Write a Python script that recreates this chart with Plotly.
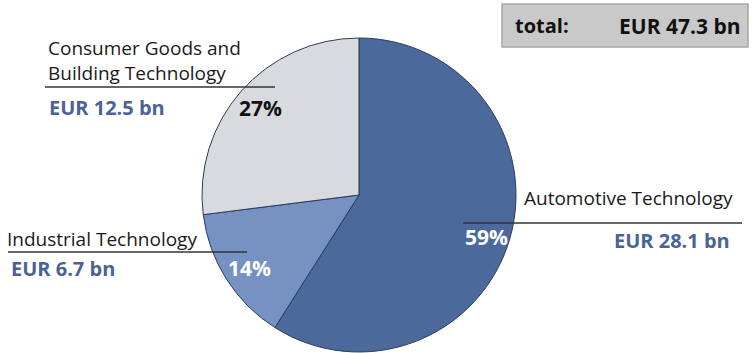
import plotly.graph_objects as go

# Sales by business sector
sectors = ["Automotive Technology", "Industrial Technology", "Consumer Goods and<br>Building Technology"]
shares_pct = [59, 14, 27]
sales_bn = ["EUR 28.1 bn", "EUR 6.7 bn", "EUR 12.5 bn"]
total_label = "EUR 47.3 bn"
colors = ["#4b6a9b", "#7692c2", "#d9dadd"]

W, H = 752, 353
FONT = "Open Sans"
BLUE = "#4a6396"


def px(x):
    return x / W


def py(y):
    return 1 - y / H


fig = go.Figure(
    go.Pie(
        labels=sectors,
        values=shares_pct,
        sort=False,
        direction="clockwise",
        rotation=0,
        textinfo="none",
        hoverinfo="skip",
        marker=dict(colors=colors, line=dict(color="#2b3b5c", width=1)),
        domain=dict(x=[px(202), px(516)], y=[py(352), py(38)]),
        showlegend=False,
    )
)

annotations = []
shapes = []


def text(x, y, s, size=19, color="#1a1a1a", bold=False, xanchor="left"):
    annotations.append(
        dict(
            x=px(x), y=py(y), xref="paper", yref="paper",
            text=f"<b>{s}</b>" if bold else s,
            showarrow=False, xanchor=xanchor, yanchor="middle", align="left",
            font=dict(family=FONT, size=size, color=color),
        )
    )


def hline(x0, x1, y):
    shapes.append(
        dict(type="line", xref="paper", yref="paper",
             x0=px(x0), x1=px(x1), y0=py(y), y1=py(y),
             line=dict(color="#333333", width=1.3))
    )


# Automotive Technology
text(522, 198, sectors[0])
hline(463, 742, 223)
text(463, 237, f"{shares_pct[0]}%", size=21, color="white", bold=True)
text(732, 241, sales_bn[0], size=20, color=BLUE, bold=True, xanchor="right")

# Industrial Technology
text(5, 239, sectors[1])
hline(8, 247, 252)
text(226, 268, f"{shares_pct[1]}%", size=21, color="white", bold=True)
text(9, 268, sales_bn[1], size=20, color=BLUE, bold=True)

# Consumer Goods and Building Technology
annotations.append(
    dict(
        x=px(46), y=py(60), xref="paper", yref="paper",
        text=sectors[2], showarrow=False, xanchor="left", yanchor="middle",
        align="left", font=dict(family=FONT, size=19, color="#1a1a1a"),
    )
)
hline(45, 275, 87)
text(237, 108, f"{shares_pct[2]}%", size=21, color="#111111", bold=True)
text(47, 107, sales_bn[2], size=20, color=BLUE, bold=True)

# Total box
shapes.append(
    dict(type="rect", xref="paper", yref="paper",
         x0=px(502), x1=px(748), y0=py(47), y1=py(4),
         fillcolor="#c9c9c9", line=dict(color="#a6a6a6", width=1.5), layer="below")
)
text(513, 26, "total:", size=20, bold=True, color="#111111")
text(743, 26, total_label, size=21, bold=True, color="#111111", xanchor="right")

fig.update_layout(
    width=W, height=H,
    margin=dict(l=0, r=0, t=0, b=0),
    paper_bgcolor="white", plot_bgcolor="white",
    annotations=annotations, shapes=shapes,
)

fig.write_html("out.html")
